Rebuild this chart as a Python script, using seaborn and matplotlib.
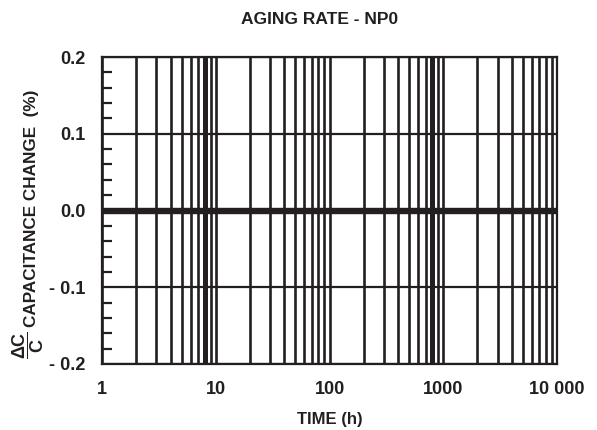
import matplotlib
matplotlib.use("Agg")
import matplotlib.pyplot as plt
import matplotlib.ticker as mticker
import numpy as np
import pandas as pd
import seaborn as sns

# Aging data for NP0 dielectric: no measurable change over time
time_h = [1, 10, 100, 1000, 10000]
cap_change_pct = [0.0, 0.0, 0.0, 0.0, 0.0]

x_major = [1, 10, 100, 1000, 10000]
x_major_labels = ["1", "10", "100", "1000", "10 000"]
y_major = [-0.2, -0.1, 0.0, 0.1, 0.2]
y_major_labels = ["- 0.2", "- 0.1", "0.0", "0.1", "0.2"]

sns.set_style("white")
plt.rcParams["font.family"] = ["Liberation Sans", "DejaVu Sans"]
plt.rcParams["mathtext.fontset"] = "custom"
plt.rcParams["mathtext.rm"] = "Liberation Sans:bold"
plt.rcParams["mathtext.bf"] = "Liberation Sans:bold"
plt.rcParams["mathtext.it"] = "Liberation Sans:bold"

ink = "#231f20"
fig = plt.figure(figsize=(5.97, 4.30), dpi=100)
ax = fig.add_axes([0.1709, 0.1535, 0.9330 - 0.1709, 0.8674 - 0.1535])

df = pd.DataFrame({"time": time_h, "change": cap_change_pct})
sns.lineplot(data=df, x="time", y="change", ax=ax, color=ink,
             linewidth=4.6, solid_capstyle="butt", zorder=5)

ax.set_xscale("log")
ax.set_xlim(1, 10000)
ax.set_ylim(-0.2, 0.2)

# Log grid: decades and 2..9 subdivisions
ax.xaxis.set_major_locator(mticker.FixedLocator(x_major))
ax.xaxis.set_major_formatter(mticker.FixedFormatter(x_major_labels))
ax.xaxis.set_minor_locator(mticker.LogLocator(base=10, subs=np.arange(2, 10)))
ax.xaxis.set_minor_formatter(mticker.NullFormatter())
ax.grid(True, which="major", axis="x", color=ink, linewidth=1.9)
ax.grid(True, which="minor", axis="x", color=ink, linewidth=1.9)
for xv in (8, 800):
    ax.axvline(xv, color=ink, linewidth=3.6, zorder=1)

ax.yaxis.set_major_locator(mticker.FixedLocator(y_major))
ax.yaxis.set_major_formatter(mticker.FixedFormatter(y_major_labels))
ax.yaxis.set_minor_locator(mticker.MultipleLocator(0.02))
ax.grid(True, which="major", axis="y", color=ink, linewidth=1.6)

ax.tick_params(axis="x", which="major", direction="out", length=6, width=1.6,
               color=ink, pad=6, labelsize=13)
ax.tick_params(axis="x", which="minor", length=0)
ax.tick_params(axis="y", which="major", direction="out", length=4, width=1.6,
               color=ink, pad=8, labelsize=13)
ax.tick_params(axis="y", which="minor", direction="in", length=7, width=1.6,
               color=ink, left=True)
for lab in ax.get_xticklabels() + ax.get_yticklabels():
    lab.set_fontweight("bold")
    lab.set_color(ink)

for side in ["left", "right", "top", "bottom"]:
    ax.spines[side].set_visible(True)
    ax.spines[side].set_color(ink)
    ax.spines[side].set_linewidth(1.6)

ax.set_xlabel("TIME (h)", fontsize=12, fontweight="bold", color=ink, labelpad=10)
ax.set_ylabel("")
fig.text(320 / 597, 1 - 20 / 430, "AGING RATE - NP0", ha="center", va="center",
         fontsize=12.5, fontweight="bold", color=ink)

# Rotated y-axis label with the ΔC/C fraction
fig.text(32 / 597, 1 - 208 / 430, "CAPACITANCE CHANGE  (%)", rotation=90,
         ha="center", va="center", fontsize=12.3, fontweight="bold", color=ink)
fig.text(28 / 597, 1 - 345 / 430, r"$\dfrac{\Delta C}{C}$", rotation=90,
         ha="center", va="center", fontsize=13, color=ink)

fig.savefig("out.png", dpi=100)
